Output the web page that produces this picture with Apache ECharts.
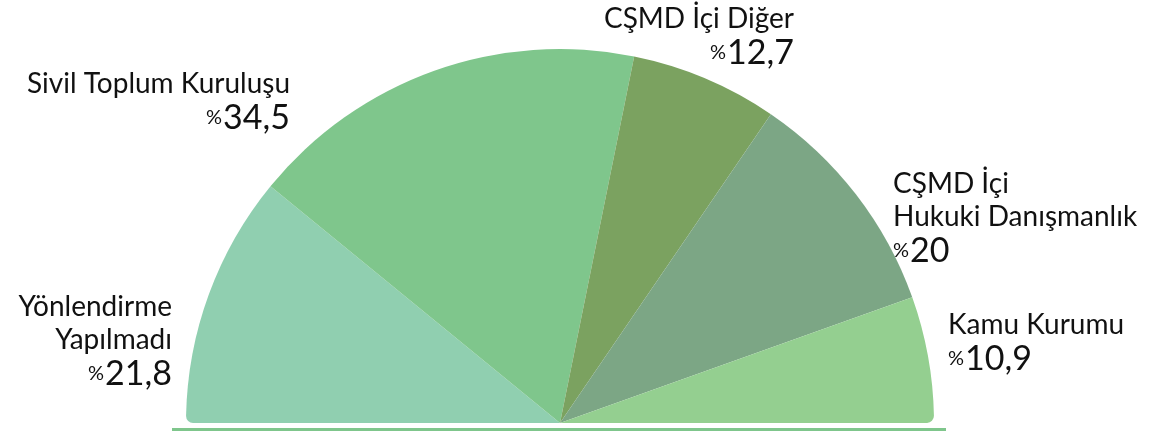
<!DOCTYPE html>
<html>
<head>
<meta charset="utf-8">
<script src="https://cdn.jsdelivr.net/npm/echarts@6/dist/echarts.min.js"></script>
<style>
  html, body { margin: 0; padding: 0; background: #fff; }
  #chart { width: 1161px; height: 432px; }
</style>
</head>
<body>
<div id="chart"></div>
<script>
var categories = ['Yönlendirme\nYapılmadı', 'Sivil Toplum Kuruluşu', 'CŞMD İçi Diğer', 'CŞMD İçi\nHukuki Danışmanlık', 'Kamu Kurumu'];
var values = [21.8, 34.5, 12.7, 20, 10.9];
var colors = ['#90cfb0', '#7fc68c', '#7ba260', '#7ca685', '#94cf90'];

// where each label block sits (x, y of top edge, alignment)
var labelPos = [
    { x: 172, y: 290, align: 'right' },
    { x: 290, y: 67, align: 'right' },
    { x: 794, y: 2, align: 'right' },
    { x: 893, y: 167, align: 'left' },
    { x: 948, y: 308, align: 'left' }
];

// only the two bottom outer corners are rounded
var corners = [[0, 0, 7, 0], 0, 0, 0, [0, 0, 0, 7]];

var chart = echarts.init(document.getElementById('chart'));

var pieData = categories.map(function (name, i) {
    return { name: name, value: values[i], itemStyle: { color: colors[i], borderRadius: corners[i] } };
});

chart.setOption({
    animation: false,
    graphic: [{
        type: 'rect',
        shape: { x: 172, y: 428, width: 774, height: 3 },
        style: { fill: '#7fc68c' }
    }],
    series: [{
        type: 'pie',
        center: [560, 423],
        radius: [0, 374],
        startAngle: 180,
        endAngle: 0,
        clockwise: true,
        avoidLabelOverlap: false,
        itemStyle: { borderWidth: 0 },
        emphasis: { disabled: true },
        label: {
            show: true,
            position: 'outside',
            fontFamily: 'Lato',
            color: '#111',
            formatter: function (p) {
                var lines = p.name.split('\n').map(function (s) { return '{n|' + s + '}'; });
                var v = String(p.value).replace('.', ',');
                return lines.join('\n') + '\n{p|%}{v|' + v + '}';
            },
            rich: {
                n: { fontSize: 28, lineHeight: 33, fontFamily: 'Lato', color: '#111' },
                p: { fontSize: 20, lineHeight: 36, fontFamily: 'Lato', color: '#111', verticalAlign: 'bottom', padding: [0, 1, 8, 0] },
                v: { fontSize: 34, lineHeight: 36, fontFamily: 'Lato', color: '#111' }
            }
        },
        labelLine: { show: false },
        labelLayout: function (params) {
            var pos = labelPos[params.dataIndex];
            return { x: pos.x, y: pos.y, align: pos.align, verticalAlign: 'top' };
        },
        data: pieData
    }]
});
</script>
</body>
</html>
